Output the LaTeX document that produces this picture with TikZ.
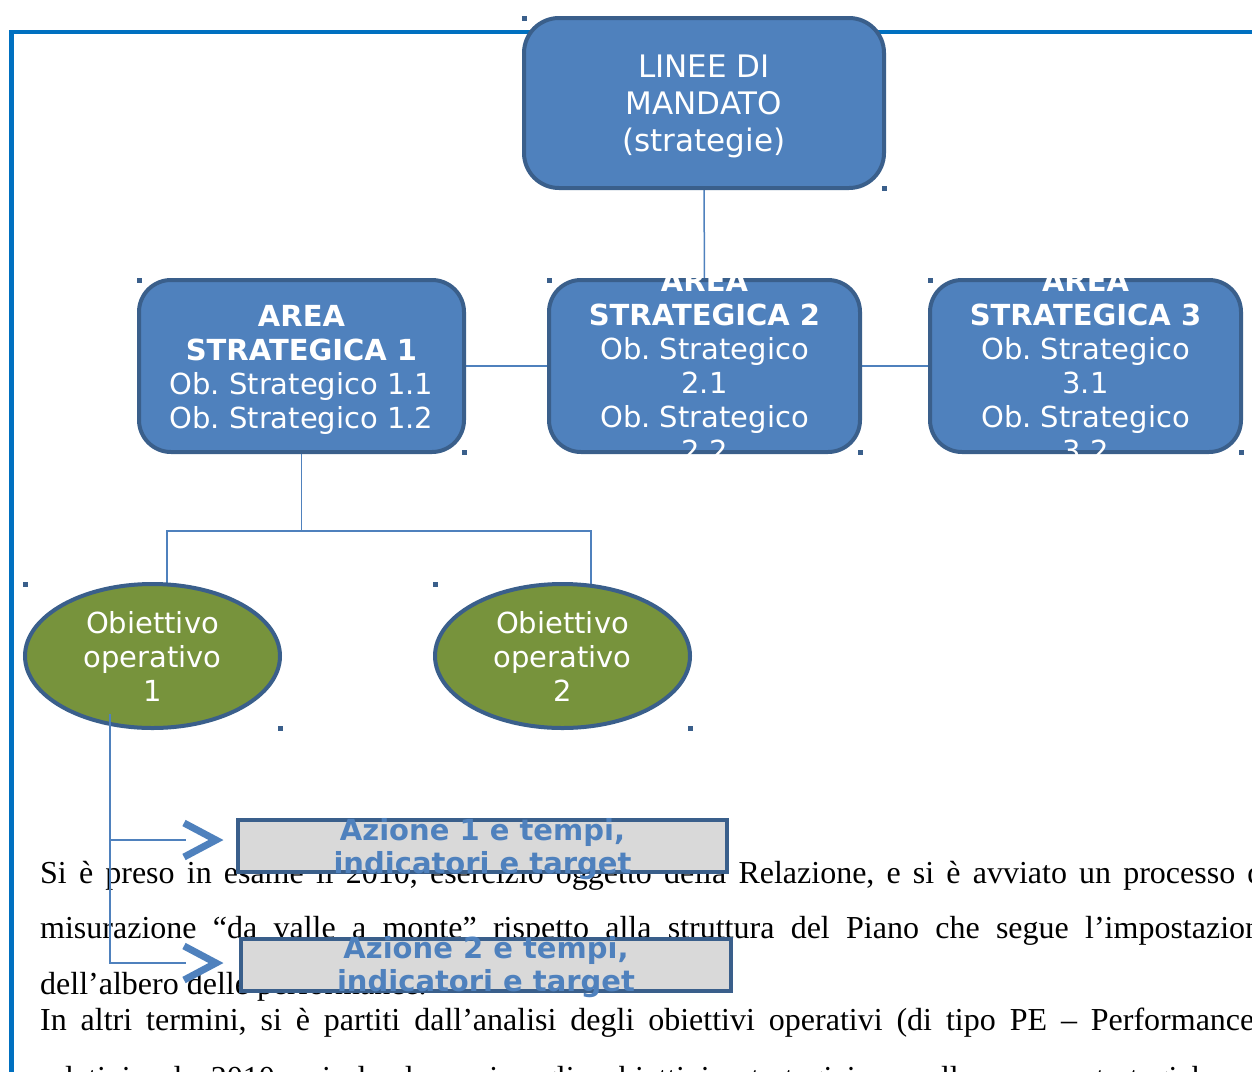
\documentclass[tikz,border=0pt]{standalone}
\usepackage{fontspec}
\setmainfont{Liberation Serif}
\newfontfamily\dvs{DejaVu Sans}
\usetikzlibrary{calc,shapes.geometric}
\pgfdeclarelayer{back}
\pgfdeclarelayer{bg}
\pgfsetlayers{back,bg,main}
\definecolor{boxfill}{HTML}{4F81BD}
\definecolor{boxline}{HTML}{3A5F8B}
\definecolor{olivefill}{HTML}{77933C}
\definecolor{frameblue}{HTML}{0070C0}
\definecolor{azfill}{HTML}{D9D9D9}
\tikzset{
  bluebox/.style={draw=boxline, line width=4pt, fill=boxfill, inner sep=0pt, outer sep=0pt},
  areabox/.style={bluebox, rounded corners=32pt, minimum height=172pt},
  areafont/.style={font=\dvs\frenchspacing\fontsize{29}{34}\selectfont},
  areatext/.style={areafont, text=white, align=center, inner sep=0pt},
  opbox/.style={ellipse, draw=boxline, line width=4pt, fill=olivefill, inner sep=0pt, outer sep=0pt, minimum width=255pt, minimum height=144pt, text=white, align=center, areafont},
  azbox/.style={draw=boxline, line width=4pt, fill=azfill, inner sep=0pt, outer sep=0pt, minimum height=52pt},
  aztext/.style={font=\dvs\bfseries\frenchspacing\fontsize{29}{33}\selectfont, text=boxfill, align=center, inner sep=0pt},
  conn/.style={draw=boxfill, line width=1.5pt},
  chev/.style={draw=boxfill, line width=7pt, line join=miter},
  bodytext/.style={anchor=base west, inner sep=0pt, font=\frenchspacing\fontsize{32}{38}\selectfont},
  handle/.style={fill=boxline}
}
\newcommand\hdl[1]{\fill[handle] ($(#1)+(-2.5,-2.5)$) rectangle ++(5,5);}
\begin{document}
\begin{tikzpicture}[x=1pt,y=-1pt]
\useasboundingbox (0,0) rectangle (1252,1071);

% ---- boxes ----
\node[bluebox, rounded corners=35pt, minimum width=360pt, minimum height=170pt] (top) at (704,103) {};
\node[areatext, font=\dvs\fontsize{31}{37}\selectfont] (topt) at ($(top.center)+(0,3)$) {LINEE DI\\MANDATO\\(strategie)};

\node[areabox, minimum width=325pt] (a1) at (301.5,366) {};
\node[areatext] (a1t) at ($(a1.center)+(0,4)$)
  {\textbf{AREA}\\\textbf{STRATEGICA 1}\\Ob. Strategico 1.1\\Ob. Strategico 1.2};
\node[areabox, minimum width=311pt] (a2) at (704.5,366) {};
\node[areabox, minimum width=311pt] (a3) at (1085.5,366) {};

\begin{scope}
  \clip ($(a2.north west)+(0,-3)$) rectangle ($(a2.south east)+(0,5)$);
  \node[areatext] (a2t) at (a2.center)
    {\textbf{AREA}\\\textbf{STRATEGICA 2}\\Ob. Strategico\\2.1\\Ob. Strategico\\2.2};
\end{scope}
\begin{scope}
  \clip ($(a3.north west)+(0,-3)$) rectangle ($(a3.south east)+(0,5)$);
  \node[areatext] (a3t) at (a3.center)
    {\textbf{AREA}\\\textbf{STRATEGICA 3}\\Ob. Strategico\\3.1\\Ob. Strategico\\3.2};
\end{scope}

\node[opbox] (e1) at (152.5,656) {Obiettivo\\operativo\\1};
\node[opbox] (e2) at (562.5,656) {Obiettivo\\operativo\\2};

\node[azbox, minimum width=489pt] (az1) at (482.5,846) {};
\node[aztext] (az1t) at ($(az1.center)+(0,3.5)$) {Azione 1 e tempi,\\indicatori e target};
\node[azbox, minimum width=490pt] (az2) at (486,965) {};
\node[aztext] (az2t) at ($(az2.center)+(0,2.5)$) {Azione 2 e tempi,\\indicatori e target};

% ---- selection handles ----
\hdl{top.north west}\hdl{top.south east}
\hdl{a1.north west}\hdl{a1.south east}
\hdl{a2.north west}\hdl{a2.south east}
\hdl{a3.north west}\hdl{a3.south east}
\hdl{e1.west |- e1.north}\hdl{e1.east |- e1.south}
\hdl{e2.west |- e2.north}\hdl{e2.east |- e2.south}

% ---- frame and connectors ----
\begin{pgfonlayer}{bg}
  \draw[frameblue, line width=4.5pt] (11.5,1080) -- (11.5,32) -- (1260,32);
  \draw[conn] (top.south) -- (a2.north);
  \draw[conn] (a1.east) -- (a2.west);
  \draw[conn] (a2.east) -- (a3.west);
  \draw[conn] (a1.south) -- ++(0,79) coordinate (j1);
  \draw[conn] ($(e1.north)+(14.5,0)$) |- (j1) -| ($(e2.north)+(28.5,0)$);
\end{pgfonlayer}
\coordinate (t0) at ($(e1.center)+(-42.5,58)$);
\coordinate (c1) at ($(az1.west)+(-52,-6)$);
\coordinate (c2) at ($(az2.west)+(-55,-2)$);
\draw[conn] (t0) |- (c2);
\draw[conn] (t0 |- c1) -- (c1);
\draw[chev] ($(c1)+(-2,-17)$) -- ($(c1)+(30,0)$) -- ($(c1)+(-2,17)$);
\draw[chev] ($(c2)+(-2,-17)$) -- ($(c2)+(30,0)$) -- ($(c2)+(-2,17)$);

% ---- body text behind ----
\begin{pgfonlayer}{back}
  \node[bodytext] (p1) at (40,883) {\makebox[1232pt][s]{Si è preso in esame il 2010, esercizio oggetto della Relazione, e si è avviato un processo di}};
  \node[bodytext] (p2) at (40,938) {\makebox[1235pt][s]{misurazione “da valle a monte” rispetto alla struttura del Piano che segue l’impostazione}};
  \node[bodytext] (p3) at (40,994) {dell’albero delle performance.};
  \node[bodytext] (p4) at (40,1030) {\makebox[1214pt][s]{In altri termini, si è partiti dall’analisi degli obiettivi operativi (di tipo PE – Performance}};
  \node[bodytext] (p5) at (40,1088) {\makebox[1235pt][s]{relativi al 2010, risalendo poi agli obiettivi strategici e alle aree strategiche di}};
\end{pgfonlayer}
\end{tikzpicture}
\end{document}
